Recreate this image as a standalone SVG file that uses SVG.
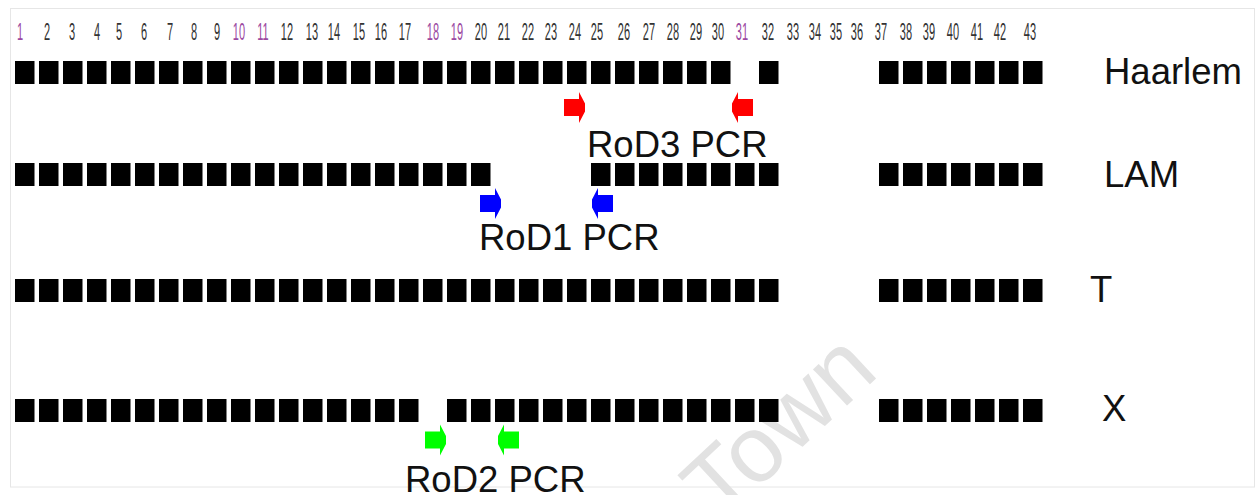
<svg xmlns="http://www.w3.org/2000/svg" xmlns:xlink="http://www.w3.org/1999/xlink" width="1260" height="495" viewBox="0 0 1260 495">
<style>
.sq{fill:#000}
.num{font-family:"Liberation Sans",Arial,sans-serif;font-size:24px;fill:#333;text-anchor:middle}
.p{fill:#9c4aa2}
.lbl{font-family:"Liberation Sans",Arial,sans-serif;font-size:36.5px;fill:#111}
.wm{font-family:"Liberation Sans",Arial,sans-serif;font-size:94px;fill:#e2e2e2}
</style>
<defs>
<path id="arr" d="M0,-8.5 H15 V-15.5 L21,-4 V4 L15,15.5 V8.5 H0 Z"/>
</defs>
<rect x="0" y="0" width="1260" height="495" fill="#fff"/>
<rect x="10.5" y="8.5" width="1244" height="478.5" fill="none" stroke="#e6e6e6" stroke-width="1"/>
<text class="wm" transform="translate(720,524) rotate(-43)">Town</text>
<g id="ruler" transform="scale(0.46,1)">
<text class="num p" x="43.48" y="40">1</text>
<text class="num" x="102.17" y="40">2</text>
<text class="num" x="156.52" y="40">3</text>
<text class="num" x="210.87" y="40">4</text>
<text class="num" x="258.70" y="40">5</text>
<text class="num" x="313.04" y="40">6</text>
<text class="num" x="369.57" y="40">7</text>
<text class="num" x="421.74" y="40">8</text>
<text class="num" x="471.74" y="40">9</text>
<text class="num p" x="519.57" y="40">10</text>
<text class="num p" x="571.74" y="40">11</text>
<text class="num" x="623.91" y="40">12</text>
<text class="num" x="678.26" y="40">13</text>
<text class="num" x="726.09" y="40">14</text>
<text class="num" x="780.43" y="40">15</text>
<text class="num" x="828.26" y="40">16</text>
<text class="num" x="880.43" y="40">17</text>
<text class="num p" x="941.30" y="40">18</text>
<text class="num p" x="993.48" y="40">19</text>
<text class="num" x="1045.65" y="40">20</text>
<text class="num" x="1095.65" y="40">21</text>
<text class="num" x="1147.83" y="40">22</text>
<text class="num" x="1197.83" y="40">23</text>
<text class="num" x="1250.00" y="40">24</text>
<text class="num" x="1297.83" y="40">25</text>
<text class="num" x="1356.52" y="40">26</text>
<text class="num" x="1410.87" y="40">27</text>
<text class="num" x="1463.04" y="40">28</text>
<text class="num" x="1513.04" y="40">29</text>
<text class="num" x="1560.87" y="40">30</text>
<text class="num p" x="1613.04" y="40">31</text>
<text class="num" x="1669.57" y="40">32</text>
<text class="num" x="1723.91" y="40">33</text>
<text class="num" x="1771.74" y="40">34</text>
<text class="num" x="1817.39" y="40">35</text>
<text class="num" x="1863.04" y="40">36</text>
<text class="num" x="1915.22" y="40">37</text>
<text class="num" x="1969.57" y="40">38</text>
<text class="num" x="2019.57" y="40">39</text>
<text class="num" x="2071.74" y="40">40</text>
<text class="num" x="2123.91" y="40">41</text>
<text class="num" x="2173.91" y="40">42</text>
<text class="num" x="2239.13" y="40">43</text>
</g>
<g id="row-haarlem">
<rect class="sq" x="15" y="61" width="19.5" height="23"/><rect class="sq" x="39" y="61" width="19.5" height="23"/><rect class="sq" x="63" y="61" width="19.5" height="23"/><rect class="sq" x="87" y="61" width="19.5" height="23"/><rect class="sq" x="111" y="61" width="19.5" height="23"/><rect class="sq" x="135" y="61" width="19.5" height="23"/><rect class="sq" x="159" y="61" width="19.5" height="23"/><rect class="sq" x="183" y="61" width="19.5" height="23"/><rect class="sq" x="207" y="61" width="19.5" height="23"/><rect class="sq" x="231" y="61" width="19.5" height="23"/><rect class="sq" x="255" y="61" width="19.5" height="23"/><rect class="sq" x="279" y="61" width="19.5" height="23"/><rect class="sq" x="303" y="61" width="19.5" height="23"/><rect class="sq" x="327" y="61" width="19.5" height="23"/><rect class="sq" x="351" y="61" width="19.5" height="23"/><rect class="sq" x="375" y="61" width="19.5" height="23"/><rect class="sq" x="399" y="61" width="19.5" height="23"/><rect class="sq" x="423" y="61" width="19.5" height="23"/><rect class="sq" x="447" y="61" width="19.5" height="23"/><rect class="sq" x="471" y="61" width="19.5" height="23"/><rect class="sq" x="495" y="61" width="19.5" height="23"/><rect class="sq" x="519" y="61" width="19.5" height="23"/><rect class="sq" x="543" y="61" width="19.5" height="23"/><rect class="sq" x="567" y="61" width="19.5" height="23"/><rect class="sq" x="591" y="61" width="19.5" height="23"/><rect class="sq" x="615" y="61" width="19.5" height="23"/><rect class="sq" x="639" y="61" width="19.5" height="23"/><rect class="sq" x="663" y="61" width="19.5" height="23"/><rect class="sq" x="687" y="61" width="19.5" height="23"/><rect class="sq" x="711" y="61" width="19.5" height="23"/>
<rect class="sq" x="759" y="61" width="19.5" height="23"/>
<rect class="sq" x="879" y="61" width="19.5" height="23"/><rect class="sq" x="903" y="61" width="19.5" height="23"/><rect class="sq" x="927" y="61" width="19.5" height="23"/><rect class="sq" x="951" y="61" width="19.5" height="23"/><rect class="sq" x="975" y="61" width="19.5" height="23"/><rect class="sq" x="999" y="61" width="19.5" height="23"/><rect class="sq" x="1023" y="61" width="19.5" height="23"/>
<text class="lbl" x="1104" y="84">Haarlem</text>
</g>
<g id="row-lam">
<rect class="sq" x="15" y="163" width="19.5" height="23"/><rect class="sq" x="39" y="163" width="19.5" height="23"/><rect class="sq" x="63" y="163" width="19.5" height="23"/><rect class="sq" x="87" y="163" width="19.5" height="23"/><rect class="sq" x="111" y="163" width="19.5" height="23"/><rect class="sq" x="135" y="163" width="19.5" height="23"/><rect class="sq" x="159" y="163" width="19.5" height="23"/><rect class="sq" x="183" y="163" width="19.5" height="23"/><rect class="sq" x="207" y="163" width="19.5" height="23"/><rect class="sq" x="231" y="163" width="19.5" height="23"/><rect class="sq" x="255" y="163" width="19.5" height="23"/><rect class="sq" x="279" y="163" width="19.5" height="23"/><rect class="sq" x="303" y="163" width="19.5" height="23"/><rect class="sq" x="327" y="163" width="19.5" height="23"/><rect class="sq" x="351" y="163" width="19.5" height="23"/><rect class="sq" x="375" y="163" width="19.5" height="23"/><rect class="sq" x="399" y="163" width="19.5" height="23"/><rect class="sq" x="423" y="163" width="19.5" height="23"/><rect class="sq" x="447" y="163" width="19.5" height="23"/><rect class="sq" x="471" y="163" width="19.5" height="23"/>
<rect class="sq" x="591" y="163" width="19.5" height="23"/><rect class="sq" x="615" y="163" width="19.5" height="23"/><rect class="sq" x="639" y="163" width="19.5" height="23"/><rect class="sq" x="663" y="163" width="19.5" height="23"/><rect class="sq" x="687" y="163" width="19.5" height="23"/><rect class="sq" x="711" y="163" width="19.5" height="23"/><rect class="sq" x="735" y="163" width="19.5" height="23"/><rect class="sq" x="759" y="163" width="19.5" height="23"/>
<rect class="sq" x="879" y="163" width="19.5" height="23"/><rect class="sq" x="903" y="163" width="19.5" height="23"/><rect class="sq" x="927" y="163" width="19.5" height="23"/><rect class="sq" x="951" y="163" width="19.5" height="23"/><rect class="sq" x="975" y="163" width="19.5" height="23"/><rect class="sq" x="999" y="163" width="19.5" height="23"/><rect class="sq" x="1023" y="163" width="19.5" height="23"/>
<text class="lbl" x="1104" y="187">LAM</text>
</g>
<g id="row-t">
<rect class="sq" x="15" y="279" width="19.5" height="23"/><rect class="sq" x="39" y="279" width="19.5" height="23"/><rect class="sq" x="63" y="279" width="19.5" height="23"/><rect class="sq" x="87" y="279" width="19.5" height="23"/><rect class="sq" x="111" y="279" width="19.5" height="23"/><rect class="sq" x="135" y="279" width="19.5" height="23"/><rect class="sq" x="159" y="279" width="19.5" height="23"/><rect class="sq" x="183" y="279" width="19.5" height="23"/><rect class="sq" x="207" y="279" width="19.5" height="23"/><rect class="sq" x="231" y="279" width="19.5" height="23"/><rect class="sq" x="255" y="279" width="19.5" height="23"/><rect class="sq" x="279" y="279" width="19.5" height="23"/><rect class="sq" x="303" y="279" width="19.5" height="23"/><rect class="sq" x="327" y="279" width="19.5" height="23"/><rect class="sq" x="351" y="279" width="19.5" height="23"/><rect class="sq" x="375" y="279" width="19.5" height="23"/><rect class="sq" x="399" y="279" width="19.5" height="23"/><rect class="sq" x="423" y="279" width="19.5" height="23"/><rect class="sq" x="447" y="279" width="19.5" height="23"/><rect class="sq" x="471" y="279" width="19.5" height="23"/><rect class="sq" x="495" y="279" width="19.5" height="23"/><rect class="sq" x="519" y="279" width="19.5" height="23"/><rect class="sq" x="543" y="279" width="19.5" height="23"/><rect class="sq" x="567" y="279" width="19.5" height="23"/><rect class="sq" x="591" y="279" width="19.5" height="23"/><rect class="sq" x="615" y="279" width="19.5" height="23"/><rect class="sq" x="639" y="279" width="19.5" height="23"/><rect class="sq" x="663" y="279" width="19.5" height="23"/><rect class="sq" x="687" y="279" width="19.5" height="23"/><rect class="sq" x="711" y="279" width="19.5" height="23"/><rect class="sq" x="735" y="279" width="19.5" height="23"/><rect class="sq" x="759" y="279" width="19.5" height="23"/>
<rect class="sq" x="879" y="279" width="19.5" height="23"/><rect class="sq" x="903" y="279" width="19.5" height="23"/><rect class="sq" x="927" y="279" width="19.5" height="23"/><rect class="sq" x="951" y="279" width="19.5" height="23"/><rect class="sq" x="975" y="279" width="19.5" height="23"/><rect class="sq" x="999" y="279" width="19.5" height="23"/><rect class="sq" x="1023" y="279" width="19.5" height="23"/>
<text class="lbl" x="1090" y="302">T</text>
</g>
<g id="row-x">
<rect class="sq" x="15" y="399" width="19.5" height="23"/><rect class="sq" x="39" y="399" width="19.5" height="23"/><rect class="sq" x="63" y="399" width="19.5" height="23"/><rect class="sq" x="87" y="399" width="19.5" height="23"/><rect class="sq" x="111" y="399" width="19.5" height="23"/><rect class="sq" x="135" y="399" width="19.5" height="23"/><rect class="sq" x="159" y="399" width="19.5" height="23"/><rect class="sq" x="183" y="399" width="19.5" height="23"/><rect class="sq" x="207" y="399" width="19.5" height="23"/><rect class="sq" x="231" y="399" width="19.5" height="23"/><rect class="sq" x="255" y="399" width="19.5" height="23"/><rect class="sq" x="279" y="399" width="19.5" height="23"/><rect class="sq" x="303" y="399" width="19.5" height="23"/><rect class="sq" x="327" y="399" width="19.5" height="23"/><rect class="sq" x="351" y="399" width="19.5" height="23"/><rect class="sq" x="375" y="399" width="19.5" height="23"/><rect class="sq" x="399" y="399" width="19.5" height="23"/>
<rect class="sq" x="447" y="399" width="19.5" height="23"/><rect class="sq" x="471" y="399" width="19.5" height="23"/><rect class="sq" x="495" y="399" width="19.5" height="23"/><rect class="sq" x="519" y="399" width="19.5" height="23"/><rect class="sq" x="543" y="399" width="19.5" height="23"/><rect class="sq" x="567" y="399" width="19.5" height="23"/><rect class="sq" x="591" y="399" width="19.5" height="23"/><rect class="sq" x="615" y="399" width="19.5" height="23"/><rect class="sq" x="639" y="399" width="19.5" height="23"/><rect class="sq" x="663" y="399" width="19.5" height="23"/><rect class="sq" x="687" y="399" width="19.5" height="23"/><rect class="sq" x="711" y="399" width="19.5" height="23"/><rect class="sq" x="735" y="399" width="19.5" height="23"/><rect class="sq" x="759" y="399" width="19.5" height="23"/>
<rect class="sq" x="879" y="399" width="19.5" height="23"/><rect class="sq" x="903" y="399" width="19.5" height="23"/><rect class="sq" x="927" y="399" width="19.5" height="23"/><rect class="sq" x="951" y="399" width="19.5" height="23"/><rect class="sq" x="975" y="399" width="19.5" height="23"/><rect class="sq" x="999" y="399" width="19.5" height="23"/><rect class="sq" x="1023" y="399" width="19.5" height="23"/>
<text class="lbl" x="1102" y="421">X</text>
</g>
<g id="connectors">
<use href="#arr" fill="#ff0000" transform="translate(564,107.5)"/>
<use href="#arr" fill="#ff0000" transform="translate(753,107.5) scale(-1,1)"/>
<use href="#arr" fill="#0000ff" transform="translate(480,203.5)"/>
<use href="#arr" fill="#0000ff" transform="translate(613,203.5) scale(-1,1)"/>
<use href="#arr" fill="#00ff00" transform="translate(425,440)"/>
<use href="#arr" fill="#00ff00" transform="translate(519,440) scale(-1,1)"/>
</g>
<g id="pcr-labels">
<text class="lbl" x="587" y="157">RoD3 PCR</text>
<text class="lbl" x="479" y="250">RoD1 PCR</text>
<text class="lbl" x="405" y="492">RoD2 PCR</text>
</g>
</svg>
